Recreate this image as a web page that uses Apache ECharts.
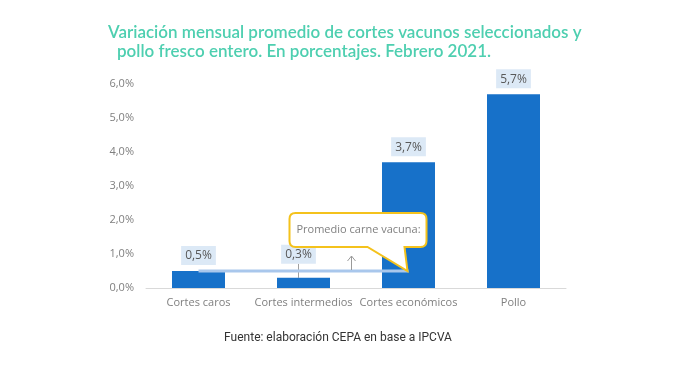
<!DOCTYPE html>
<html>
<head>
<meta charset="utf-8">
<script src="https://cdn.jsdelivr.net/npm/echarts@6/dist/echarts.min.js"></script>
<style>
html,body{margin:0;padding:0;background:#fff;}
#chart{width:676px;height:377px;}
</style>
</head>
<body>
<div id="chart"></div>
<script>
var categories = ['Cortes caros', 'Cortes intermedios', 'Cortes económicos', 'Pollo'];
var values = [0.5, 0.3, 3.7, 5.7];
var beefAverage = [0.5, 0.5, 0.5, null];
var calloutPoint = [[2, 0.5]];
var calloutText = 'Promedio carne vacuna:';
var yTicks = {min: 0, max: 6, interval: 1};
var titleLine1 = 'Variación mensual promedio de cortes vacunos seleccionados y';
var titleLine2 = 'pollo fresco entero. En porcentajes. Febrero 2021.';
var sourceText = 'Fuente: elaboración CEPA en base a IPCVA';

function fmt(v) { return v.toFixed(1).replace('.', ',') + '%'; }

var barData = values.map(function (v, i) {
  return i === 1 ? {value: v, labelLine: {show: true}} : {value: v};
});

var chart = echarts.init(document.getElementById('chart'));
chart.setOption({
  animation: false,
  title: [
    {text: titleLine1, left: 108, top: 24, padding: 0, textStyle: {color: '#4ecfb0', fontSize: 17, fontWeight: 600, fontFamily: 'Lato'}},
    {text: titleLine2, left: 117, top: 43, padding: 0, textStyle: {color: '#4ecfb0', fontSize: 17, fontWeight: 600, fontFamily: 'Lato'}},
    {text: sourceText, left: 'center', top: 332, padding: 0, textStyle: {color: '#333333', fontSize: 12, fontWeight: 'normal', fontFamily: 'Roboto'}}
  ],
  grid: {left: 146, right: 110, top: 84, bottom: 89},
  xAxis: {
    type: 'category',
    data: categories,
    axisLine: {lineStyle: {color: '#d9d9d9'}},
    axisTick: {show: false},
    axisLabel: {color: '#7f7f7f', fontSize: 11, fontFamily: 'Open Sans', margin: 9, interval: 0}
  },
  yAxis: {
    type: 'value',
    min: yTicks.min, max: yTicks.max, interval: yTicks.interval,
    splitLine: {show: false},
    axisLine: {show: false},
    axisTick: {show: false},
    axisLabel: {color: '#7f7f7f', fontSize: 11, fontFamily: 'Open Sans', margin: 12, formatter: fmt}
  },
  series: [
    {
      type: 'bar',
      data: barData,
      barWidth: 53,
      itemStyle: {color: '#1771c9'},
      label: {
        show: true, position: 'top', distance: 6,
        formatter: function (p) { return fmt(p.value); },
        color: '#595959', fontSize: 12, fontFamily: 'Open Sans',
        backgroundColor: '#dce9f6', padding: [4, 4, 3, 4]
      },
      labelLine: {show: false, lineStyle: {color: '#a0a0a0', width: 1}},
      labelLayout: function (p) {
        if (p.dataIndex === 1) return {dx: -5, dy: -8};
        return {};
      },
      z: 2
    },
    {
      type: 'line',
      data: beefAverage,
      symbol: 'none',
      lineStyle: {color: '#a9c7ec', width: 3},
      z: 3
    },
    {
      type: 'custom',
      data: calloutPoint,
      z: 5,
      renderItem: function (params, api) {
        var p = api.coord([api.value(0), api.value(1)]);
        var x = p[0], y = p[1];
        function P(dx, dy) { return (x + dx) + ' ' + (y + dy); }
        var d = 'M' + P(-113, -58) + ' L' + P(12, -58) + ' Q' + P(18, -58) + ' ' + P(18, -52) +
          ' L' + P(18, -30) + ' Q' + P(18, -24) + ' ' + P(12, -24) +
          ' L' + P(-4, -24) + ' L' + P(-1, 0) + ' L' + P(-41, -24) +
          ' L' + P(-113, -24) + ' Q' + P(-119, -24) + ' ' + P(-119, -30) +
          ' L' + P(-119, -52) + ' Q' + P(-119, -58) + ' ' + P(-113, -58) + ' Z';
        return {
          type: 'group',
          children: [
            {type: 'path', shape: {pathData: d}, style: {fill: '#ffffff', stroke: '#f4c21c', lineWidth: 2}},
            {type: 'text', style: {text: calloutText, x: x - 50, y: y - 41, align: 'center', verticalAlign: 'middle', fill: '#808080', fontSize: 11, fontFamily: 'Open Sans'}},
            {type: 'polyline', shape: {points: [[x - 57, y - 1], [x - 57, y - 15]]}, style: {stroke: '#9a9a9a', lineWidth: 1, fill: null}},
            {type: 'polyline', shape: {points: [[x - 61, y - 10], [x - 57, y - 15], [x - 53, y - 10]]}, style: {stroke: '#9a9a9a', lineWidth: 1, fill: null}}
          ]
        };
      }
    }
  ]
});
</script>
</body>
</html>
